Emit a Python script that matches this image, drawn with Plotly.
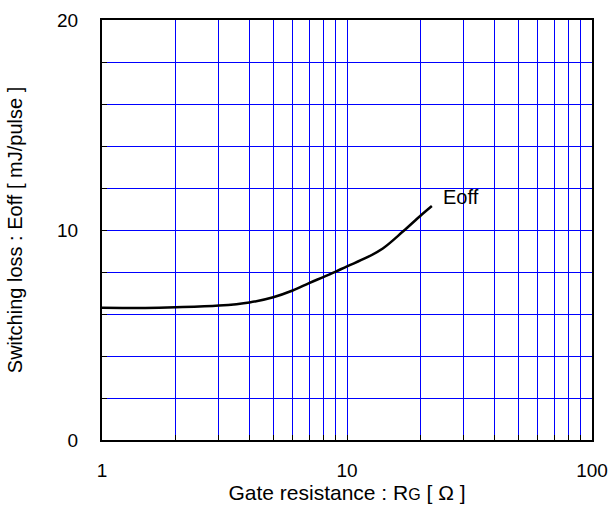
import plotly.graph_objects as go

rg = [1, 1.5, 2, 3, 4, 5, 6, 7, 8, 9, 10, 12, 14, 17, 20, 22.2]
eoff = [6.30, 6.29, 6.32, 6.40, 6.55, 6.80, 7.12, 7.47, 7.76, 8.02, 8.27, 8.68, 9.12, 9.95, 10.69, 11.14]

x_grid = [m * 10 ** d for d in range(2) for m in range(1, 10)] + [100]
x_text = ["1" if v == 1 else "10" if v == 10 else "100" if v == 100 else "" for v in x_grid]
y_grid = list(range(0, 21, 2))
y_text = [str(v) if v in (0, 10, 20) else "" for v in y_grid]

FONT = "Liberation Sans, Arial, sans-serif"
BLUE = "rgb(0,0,255)"

fig = go.Figure()
fig.add_trace(go.Scatter(x=rg, y=eoff, mode="lines",
                         line=dict(color="black", width=2.5, shape="spline", smoothing=1.0),
                         showlegend=False, hoverinfo="skip"))
fig.add_annotation(x=1.384, y=11.57, xref="x", yref="y", text="Eoff", showarrow=False,
                   xanchor="left", yanchor="middle", font=dict(family=FONT, size=20, color="black"))

fig.update_layout(
    width=611, height=506,
    margin=dict(l=102, r=19, t=20, b=66, autoexpand=False),
    paper_bgcolor="white", plot_bgcolor="white",
    font=dict(family=FONT, size=19, color="black"),
)
fig.update_xaxes(type="log", range=[0, 2], tickvals=x_grid, ticktext=x_text,
                 showgrid=True, gridcolor=BLUE, gridwidth=1,
                 ticks="inside", ticklen=5, tickcolor="black", tickwidth=1,
                 showline=True, linecolor="black", linewidth=2, mirror=True,
                 ticklabelstandoff=12, tickfont=dict(size=19), automargin=False,
                 title=dict(text="Gate resistance : R<span style='font-size:16px'>G</span> [ Ω ]",
                            font=dict(size=21), standoff=3),
                 zeroline=False)
fig.update_yaxes(range=[0, 20], tickvals=y_grid, ticktext=y_text,
                 showgrid=True, gridcolor=BLUE, gridwidth=1,
                 ticks="inside", ticklen=5, tickcolor="black", tickwidth=1,
                 showline=True, linecolor="black", linewidth=2, mirror=True,
                 ticklabelstandoff=18, tickfont=dict(size=19), automargin=False,
                 title=dict(text="Switching loss : Eoff [ mJ/pulse ]", font=dict(size=20), standoff=29),
                 zeroline=False)

fig.write_html("out.html")
